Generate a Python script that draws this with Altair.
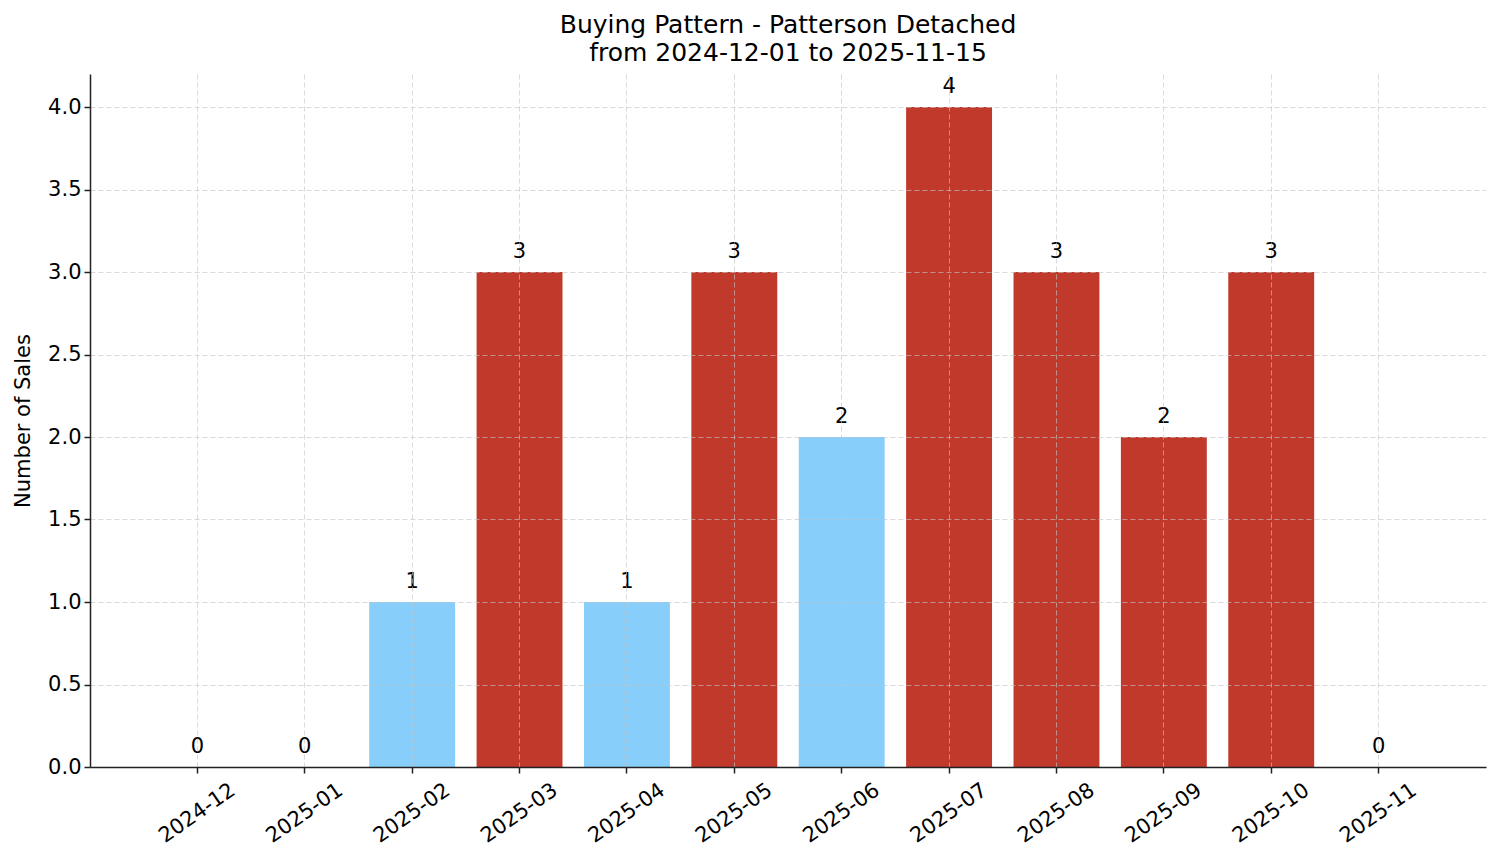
import altair as alt
import pandas as pd

months = ["2024-12", "2025-01", "2025-02", "2025-03", "2025-04", "2025-05",
          "2025-06", "2025-07", "2025-08", "2025-09", "2025-10", "2025-11"]
sales = [0, 0, 1, 3, 1, 3, 2, 4, 3, 2, 3, 0]
colors = ["#87cefa", "#87cefa", "#87cefa", "#c0392b", "#87cefa", "#c0392b",
          "#87cefa", "#c0392b", "#c0392b", "#c0392b", "#c0392b", "#87cefa"]

df = pd.DataFrame({"month": months, "sales": sales, "color": colors})

FONT = "DejaVu Sans"

x_enc = alt.X("month:N", sort=months, title=None,
              scale=alt.Scale(paddingInner=0.2, paddingOuter=0.6),
              axis=alt.Axis(labelAngle=-35, labelAlign="center", labelBaseline="middle",
                            labelPadding=40, labelFontSize=21, labelFont=FONT, labelColor="#000",
                            tickSize=6, tickWidth=1.5, tickColor="#222",
                            domainColor="#222", domainWidth=1.5,
                            grid=True, gridDash=[5, 3], gridColor="#c4c4c4", gridOpacity=0.7,
                            gridWidth=0.9, bandPosition=0.5, zindex=1))
y_enc = alt.Y("sales:Q", title="Number of Sales",
              scale=alt.Scale(domain=[0, 4.2], nice=False, zero=True),
              axis=alt.Axis(values=[0, 0.5, 1, 1.5, 2, 2.5, 3, 3.5, 4], format=".1f",
                            labelFontSize=21, labelFont=FONT, labelColor="#000", labelPadding=3,
                            tickSize=6, tickWidth=1.5, tickColor="#222",
                            domainColor="#222", domainWidth=1.5,
                            grid=True, gridDash=[5, 3], gridColor="#c4c4c4", gridOpacity=0.7,
                            gridWidth=0.9,
                            titleFontSize=21, titleFont=FONT, titleFontWeight="normal",
                            titleColor="#000", titlePadding=14, zindex=1))

bars = alt.Chart(df).mark_bar(strokeWidth=0).encode(
    x=x_enc, y=y_enc, color=alt.Color("color:N", scale=None)
)
labels = alt.Chart(df).mark_text(font=FONT, fontSize=21, baseline="alphabetic", dy=-14,
                                 color="#000").encode(
    x=alt.X("month:N", sort=months), y="sales:Q", text="sales:Q"
)

chart = alt.layer(bars, labels).properties(
    width=1396, height=693,
    title=alt.TitleParams(["Buying Pattern - Patterson Detached", "from 2024-12-01 to 2025-11-15"],
                          font=FONT, fontSize=25, fontWeight="normal", color="#000",
                          anchor="middle", lineHeight=28, offset=8),
    autosize=alt.AutoSizeParams(type="none"),
    padding={"left": 82, "top": 66, "right": 7, "bottom": 80},
).configure_view(stroke=None)

chart.save("out.html", embed_options={"renderer": "svg", "actions": False})
